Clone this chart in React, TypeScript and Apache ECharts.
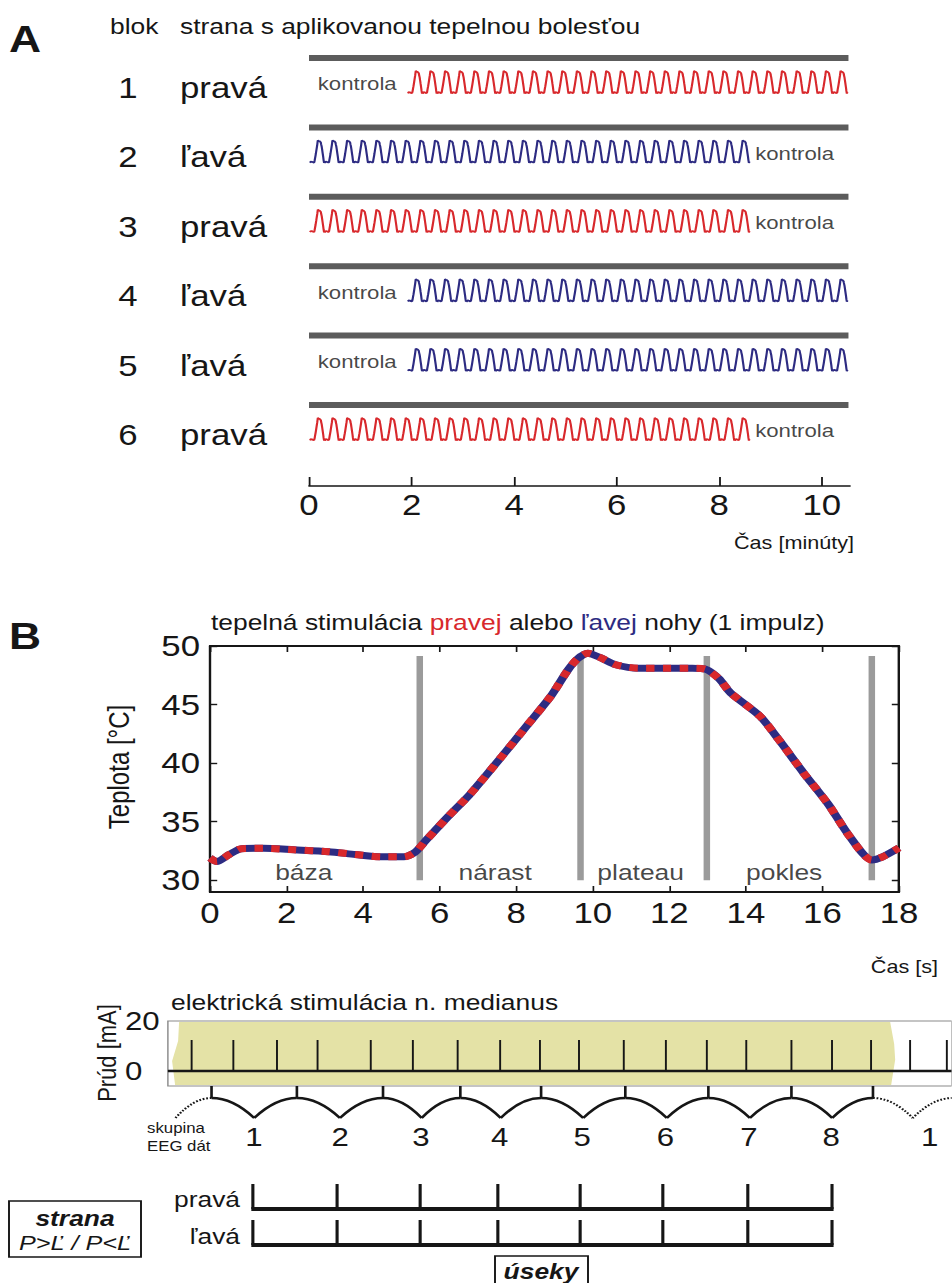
import React, { useEffect, useRef } from 'react';
import * as echarts from 'echarts';

// The original figure is horizontally stretched; the chart is drawn narrower and stretched by CSS.
const SX = 1.2;
const PAGE_W = 952;
const PAGE_H = 1283;
const CW = PAGE_W / SX;
const hx = (x: number) => x / SX;

const FONT = "'Liberation Sans', Arial, Helvetica, sans-serif";
const INK = '#161616';
const RED = '#d8282c';
const NAVY = '#2d2b82';
const BAR_GREY = '#5c5c5c';
const PHASE_GREY = '#9b9b9b';
const YELLOW = '#e4e2a6';

// ---------------- Panel A data ----------------
const blockNumbers = ['1', '2', '3', '4', '5', '6'];
const blockSides = ['pravá', 'ľavá', 'pravá', 'ľavá', 'ľavá', 'pravá'];
const stimStartMin = [1.93, 0.02, 0.02, 1.93, 1.93, 0.02];
const controlLabelMin = [0.17, 8.7, 8.7, 0.17, 0.17, 8.7];
const stimDurationMin = 8.57;
const stimCycles = 30;
const blockEndMin = 10.52;
const minutesMax = 10.55;
const minuteStep = 2;

// ---------------- Panel B data ----------------
const tempTime = [0, 0.18, 0.5, 0.82, 1.4, 2.2, 3.1, 3.8, 4.5, 5.07, 5.36, 5.64, 6.21, 6.78, 7.2, 7.63, 8.33, 8.9, 9.34, 9.6, 9.87, 10.2, 10.6, 11.2, 12.0, 12.6, 12.96, 13.3, 13.6, 14.37, 14.86, 15.5, 16.15, 16.72, 17.29, 17.57, 18.0];
const tempValue = [31.9, 31.6, 32.2, 32.7, 32.73, 32.6, 32.44, 32.2, 32.0, 32.0, 32.4, 33.4, 35.4, 37.3, 38.9, 40.6, 43.4, 45.7, 47.9, 48.9, 49.38, 49.0, 48.4, 48.1, 48.1, 48.1, 48.0, 47.2, 46.0, 44.0, 42.0, 39.2, 36.5, 33.7, 31.73, 32.0, 32.76];
const phaseBounds = [5.48, 9.68, 12.98, 17.29];
const phaseNames = ['báza', 'nárast', 'plateau', 'pokles'];
const phaseCentres = [2.45, 7.45, 11.25, 15.0];
const phaseLabelLevel = 30.65;
const phaseLineTop = 49.15;
const phaseLineBottom = 30;
const secondsMax = 18;
const secondStep = 2;
const tempAxisMin = 29;
const tempAxisMax = 50;
const tempTicks = [30, 35, 40, 45, 50];

// ---------------- Lower panel data ----------------
const lowerTimeMin = -1.1;
const lowerTimeMax = 19.38;
const currentMin = -6;
const currentMax = 20;
const currentLabels = [0, 20];
const stimSpan = [-0.99, 17.9];
const impulseTimes = [-0.48, 0.61, 1.75, 2.81, 4.2, 5.3, 6.47, 7.58, 8.62, 9.64, 10.81, 11.91, 12.98, 14.01, 15.19, 16.25, 17.27, 18.29, 19.25];
const impulseAmp = 12.4;
const groupBounds = [0.04, 2.27, 4.52, 6.54, 8.65, 10.85, 13.02, 15.19, 17.32];
const prevBound = -1.84;
const nextBound = 19.4;
const groupLabels = ['1', '2', '3', '4', '5', '6', '7', '8', '1'];
const groupLabelTimes = [1.15, 3.4, 5.51, 7.57, 9.72, 11.9, 14.08, 16.23, 18.8];
const segmentTicks = [1.12, 3.32, 5.49, 7.52, 9.67, 11.83, 14.05, 16.25];

// ---------------- Layout (reference pixels) ----------------
const rowPx = 69.4;
const row1Px = 82;
const axisAPx = 486;
const rowMin = 0.3;
const rowMax = 1 + (axisAPx - row1Px) / rowPx;
const barOffset = 24 / rowPx;
const waveAmp = 11.7 / rowPx;
const gridATop = row1Px - (1 - rowMin) * rowPx;

const gridBLeft = 210;
const gridBTop = 646;
const gridBWidth = 689;
const gridBHeight = 246;
const secPx = gridBWidth / secondsMax;
const gridCLeft = gridBLeft + lowerTimeMin * secPx;
const gridCWidth = (lowerTimeMax - lowerTimeMin) * secPx;
const gridCTop = 1021;
const gridCHeight = 65;
const combLines = [1209, 1245];
const combTick = 25;

const tMin = Math.min(...tempValue);
const tMax = Math.max(...tempValue);
const cycleMin = stimDurationMin / stimCycles;

function waveData(r: number) {
  const centre = r + 1;
  const pts: number[][] = [];
  for (let k = 0; k < stimCycles; k++) {
    tempTime.forEach((s, j) => {
      if (k > 0 && j === 0) return;
      const t = stimStartMin[r] + (k + s / secondsMax) * cycleMin;
      const v = centre + waveAmp - ((tempValue[j] - tMin) / (tMax - tMin)) * 2 * waveAmp;
      pts.push([t, v]);
    });
  }
  return pts;
}

function T(text: string, x: number, y: number, size: number, o: any = {}) {
  return {
    type: 'text',
    x: hx(x),
    y,
    rotation: o.rotation || 0,
    silent: true,
    style: {
      text,
      fontSize: size,
      fontFamily: FONT,
      fontWeight: o.weight || 'normal',
      fontStyle: o.italic ? 'italic' : 'normal',
      fill: o.color || INK,
      align: o.align || 'left',
      verticalAlign: 'middle',
    },
  };
}

function buildOption(): any {
  const series: any[] = [];

  // Panel A
  blockSides.forEach((side, r) => {
    const colour = side === 'pravá' ? RED : NAVY;
    series.push({
      type: 'line', xAxisIndex: 0, yAxisIndex: 0, silent: true, symbol: 'none',
      data: [[0, r + 1 - barOffset], [blockEndMin, r + 1 - barOffset]],
      lineStyle: { color: BAR_GREY, width: 6, cap: 'butt' },
    });
    series.push({
      type: 'line', xAxisIndex: 0, yAxisIndex: 0, silent: true, symbol: 'none',
      data: waveData(r),
      lineStyle: { color: colour, width: 1.8 },
    });
    series.push({
      type: 'scatter', xAxisIndex: 0, yAxisIndex: 0, silent: true, symbolSize: 0,
      data: [[controlLabelMin[r], r + 1]],
      label: { show: true, position: 'right', distance: 0, offset: [0, 2], formatter: 'kontrola', fontSize: 18.5, fontFamily: FONT, color: INK },
    });
  });

  // Panel B
  series.push({
    type: 'custom', xAxisIndex: 1, yAxisIndex: 1, silent: true, z: 1,
    data: phaseBounds.map((b) => [b, phaseLineBottom]),
    renderItem: (params: any, api: any) => {
      const p0 = api.coord([api.value(0), phaseLineBottom]);
      const p1 = api.coord([api.value(0), phaseLineTop]);
      return { type: 'line', shape: { x1: p0[0], y1: p0[1], x2: p1[0], y2: p1[1] }, style: { stroke: PHASE_GREY, lineWidth: hx(6.5) } };
    },
  });
  const tempData = tempTime.map((t, i) => [t, tempValue[i]]);
  series.push({
    type: 'line', xAxisIndex: 1, yAxisIndex: 1, silent: true, symbol: 'none', smooth: 0.25, z: 2,
    data: tempData, lineStyle: { color: NAVY, width: 7, cap: 'butt' },
  });
  series.push({
    type: 'line', xAxisIndex: 1, yAxisIndex: 1, silent: true, symbol: 'none', smooth: 0.25, z: 3,
    data: tempData, lineStyle: { color: RED, width: 7, type: [7, 7], cap: 'butt' },
  });
  series.push({
    type: 'scatter', xAxisIndex: 1, yAxisIndex: 1, silent: true, symbolSize: 0, z: 4,
    data: phaseCentres.map((c, k) => ({ value: [c, phaseLabelLevel], name: phaseNames[k] })),
    label: { show: true, position: 'inside', formatter: '{b}', fontSize: 22, fontFamily: FONT, color: INK },
  });

  // Lower panel: stimulation block (yellow)
  const leftEdge = [[7, 0], [6, 0.3], [0, 0.62], [3, 1]];
  const rightEdge = [[-5, 0], [-1, 0.35], [0, 0.6], [-4, 1]];
  series.push({
    type: 'custom', xAxisIndex: 3, yAxisIndex: 3, silent: true, z: 1,
    data: [[stimSpan[0], stimSpan[1]]],
    renderItem: (params: any, api: any) => {
      const x0 = api.coord([api.value(0), 0])[0];
      const x1 = api.coord([api.value(1), 0])[0];
      const yT = api.coord([0, currentMax])[1] + 1;
      const yB = api.coord([0, currentMin])[1] - 1;
      const h = yB - yT;
      const pts = [
        ...rightEdge.map(([dx, f]) => [x1 + hx(dx), yT + f * h]),
        ...leftEdge.slice().reverse().map(([dx, f]) => [x0 + hx(dx), yT + f * h]),
      ];
      return { type: 'polygon', shape: { points: pts }, style: { fill: YELLOW } };
    },
  });
  series.push({
    type: 'line', xAxisIndex: 3, yAxisIndex: 3, silent: true, symbol: 'none', z: 3,
    data: [[lowerTimeMin, 0], [lowerTimeMax, 0]], lineStyle: { color: INK, width: 2.6 },
  });
  series.push({
    type: 'custom', xAxisIndex: 3, yAxisIndex: 3, silent: true, z: 3,
    data: impulseTimes.map((t) => [t, impulseAmp]),
    renderItem: (params: any, api: any) => {
      const p0 = api.coord([api.value(0), 0]);
      const p1 = api.coord([api.value(0), api.value(1)]);
      return { type: 'line', shape: { x1: p0[0], y1: p0[1], x2: p1[0], y2: p1[1] }, style: { stroke: INK, lineWidth: 1.6 } };
    },
  });
  // group braces
  const allBounds = [prevBound, ...groupBounds, nextBound];
  series.push({
    type: 'custom', xAxisIndex: 3, yAxisIndex: 3, silent: true, z: 3, clip: false,
    data: allBounds.map((b) => [b, currentMin]),
    renderItem: (params: any, api: any) => {
      const i = params.dataIndex;
      const n = allBounds.length;
      const x = api.coord([api.value(0), 0])[0];
      const yF = api.coord([0, currentMin])[1];
      const ys = yF + 12;
      const yc = yF + 32;
      const children: any[] = [];
      if (i > 0 && i < n - 1) {
        children.push({ type: 'line', shape: { x1: x, y1: yF, x2: x, y2: ys }, style: { stroke: INK, lineWidth: 2.2 } });
      }
      if (i < n - 1) {
        const xn = api.coord([allBounds[i + 1], 0])[0];
        const xm = (x + xn) / 2;
        const dotted = i === 0 || i === n - 2;
        const st: any = { stroke: INK, lineWidth: dotted ? 2 : 2.4, fill: null };
        if (dotted) st.lineDash = [1.5, 1.5];
        if (i > 0) children.push({ type: 'bezierCurve', shape: { x1: x, y1: ys, x2: xm, y2: yc, cpx1: x + (xm - x) * 0.5, cpy1: ys }, style: st });
        children.push({ type: 'bezierCurve', shape: { x1: xn, y1: ys, x2: xm, y2: yc, cpx1: xn - (xn - xm) * 0.5, cpy1: ys }, style: st });
      }
      return { type: 'group', children };
    },
  });
  series.push({
    type: 'custom', xAxisIndex: 3, yAxisIndex: 3, silent: true, z: 3, clip: false,
    data: groupLabelTimes.map((t) => [t, currentMin]),
    renderItem: (params: any, api: any) => {
      const x = api.coord([api.value(0), 0])[0];
      const yF = api.coord([0, currentMin])[1];
      return { type: 'text', x, y: yF + 51, style: { text: groupLabels[params.dataIndex], fontSize: 26, fontFamily: FONT, fill: INK, align: 'center', verticalAlign: 'middle' } };
    },
  });
  series.push({
    type: 'custom', xAxisIndex: 3, yAxisIndex: 3, silent: true, z: 3, clip: false,
    data: segmentTicks.map((t) => [t, currentMin]),
    renderItem: (params: any, api: any) => {
      const i = params.dataIndex;
      const x = api.coord([api.value(0), 0])[0];
      const children: any[] = [];
      combLines.forEach((yl) => {
        children.push({ type: 'line', shape: { x1: x, y1: yl, x2: x, y2: yl - combTick }, style: { stroke: INK, lineWidth: 2.6 } });
        if (i < segmentTicks.length - 1) {
          const xn = api.coord([segmentTicks[i + 1], 0])[0];
          children.push({ type: 'line', shape: { x1: x - 1.3, y1: yl, x2: xn + 1.3, y2: yl }, style: { stroke: INK, lineWidth: 4 } });
        }
      });
      return { type: 'group', children };
    },
  });

  const axisText = { color: INK, fontFamily: FONT };

  const graphic: any[] = [
    T('A', 9, 39, 37, { weight: 'bold' }),
    T('B', 9, 636, 37, { weight: 'bold' }),
    T('blok', 110, 26, 22),
    T('strana s aplikovanou tepelnou bolesťou', 180, 26, 22),
    ...blockNumbers.map((nTxt, r) => T(nTxt, 128, row1Px + r * rowPx + 6, 29, { align: 'center' })),
    ...blockSides.map((s, r) => T(s, 180, row1Px + r * rowPx + 6, 29)),
    T('Čas [minúty]', 854, 543, 18, { align: 'right' }),
    {
      type: 'text', x: hx(211), y: 622, silent: true,
      style: {
        text: '{n|tepelná stimulácia }{r|pravej}{n| alebo }{b|ľavej}{n| nohy (1 impulz)}',
        fontSize: 22, fontFamily: FONT, fill: INK, align: 'left', verticalAlign: 'middle',
        rich: {
          n: { fill: INK, fontSize: 22, fontFamily: FONT },
          r: { fill: RED, fontSize: 22, fontFamily: FONT },
          b: { fill: NAVY, fontSize: 22, fontFamily: FONT },
        },
      },
    },
    T('Teplota [°C]', 119, 767, 24, { align: 'center', rotation: Math.PI / 2 }),
    T('Čas [s]', 938, 967, 18, { align: 'right' }),
    T('elektrická stimulácia n. medianus', 171, 1002, 22),
    T('Prúd [mA]', 107, 1053, 22, { align: 'center', rotation: Math.PI / 2 }),
    T('skupina', 147, 1128, 14),
    T('EEG dát', 147, 1146, 14),
    T('pravá', 240, 1199, 22, { align: 'right' }),
    T('ľavá', 240, 1236, 22, { align: 'right' }),
    { type: 'rect', silent: true, shape: { x: hx(9), y: 1201, width: hx(132), height: 56 }, style: { fill: 'none', stroke: INK, lineWidth: 1.6 } },
    T('strana', 75, 1218, 22, { align: 'center', weight: 'bold', italic: true }),
    T('P>Ľ / P<Ľ', 75, 1243, 21, { align: 'center', italic: true }),
    { type: 'rect', silent: true, shape: { x: hx(495), y: 1256, width: hx(93), height: 40 }, style: { fill: 'none', stroke: INK, lineWidth: 1.6 } },
    T('úseky', 541, 1271, 22, { align: 'center', weight: 'bold', italic: true }),
  ];

  return {
    animation: false,
    backgroundColor: '#ffffff',
    grid: [
      { left: hx(309), top: gridATop, width: hx(541), height: axisAPx - gridATop },
      { left: hx(gridBLeft), top: gridBTop, width: hx(gridBWidth), height: gridBHeight },
      { left: hx(gridCLeft), top: gridCTop, width: hx(gridCWidth), height: gridCHeight, show: true, borderColor: '#8a8a8a', borderWidth: 1.2, backgroundColor: 'transparent' },
    ],
    xAxis: [
      {
        gridIndex: 0, type: 'value', min: 0, max: minutesMax, interval: minuteStep,
        axisLine: { onZero: false, lineStyle: { color: INK, width: 1.5 } },
        axisTick: { inside: true, length: 9, lineStyle: { color: INK, width: 1.5 } },
        axisLabel: { ...axisText, fontSize: 29, margin: 5 },
        splitLine: { show: false },
      },
      {
        gridIndex: 1, type: 'value', min: 0, max: secondsMax, interval: secondStep, position: 'bottom',
        axisLine: { onZero: false, lineStyle: { color: INK, width: 2 } },
        axisTick: { inside: true, length: 6, lineStyle: { color: INK, width: 1.4 } },
        axisLabel: { ...axisText, fontSize: 29, margin: 7 },
        splitLine: { show: false },
      },
      {
        gridIndex: 1, type: 'value', min: 0, max: secondsMax, interval: secondStep, position: 'top',
        axisLine: { onZero: false, lineStyle: { color: INK, width: 2 } },
        axisTick: { inside: true, length: 6, lineStyle: { color: INK, width: 1.4 } },
        axisLabel: { show: false },
        splitLine: { show: false },
      },
      {
        gridIndex: 2, type: 'value', min: lowerTimeMin, max: lowerTimeMax, show: false,
        splitLine: { show: false },
      },
    ],
    yAxis: [
      { gridIndex: 0, type: 'value', min: rowMin, max: rowMax, inverse: true, show: false, splitLine: { show: false } },
      {
        gridIndex: 1, type: 'value', min: tempAxisMin, max: tempAxisMax, position: 'left',
        axisLine: { show: true, onZero: false, lineStyle: { color: INK, width: 2 } },
        axisTick: { show: true, inside: true, length: 6, customValues: tempTicks, lineStyle: { color: INK, width: 1.4 } },
        axisLabel: { ...axisText, fontSize: 29, margin: hx(10), customValues: tempTicks },
        splitLine: { show: false },
      },
      {
        gridIndex: 1, type: 'value', min: tempAxisMin, max: tempAxisMax, position: 'right',
        axisLine: { show: true, onZero: false, lineStyle: { color: INK, width: 2 } },
        axisTick: { show: true, inside: true, length: 6, customValues: tempTicks, lineStyle: { color: INK, width: 1.4 } },
        axisLabel: { show: false },
        splitLine: { show: false },
      },
      {
        gridIndex: 2, type: 'value', min: currentMin, max: currentMax, position: 'left',
        axisLine: { show: false },
        axisTick: { show: true, inside: true, length: hx(12), customValues: [0], lineStyle: { color: INK, width: 4 } },
        axisLabel: { ...axisText, fontSize: 26, align: 'left', margin: hx(43), customValues: currentLabels },
        splitLine: { show: false },
      },
    ],
    series,
    graphic,
  };
}

export default function App() {
  const ref = useRef<HTMLDivElement>(null);
  useEffect(() => {
    if (!ref.current) return;
    const chart = echarts.init(ref.current, undefined, { renderer: 'svg', width: CW, height: PAGE_H });
    chart.setOption(buildOption());
    return () => chart.dispose();
  }, []);
  return (
    <div
      ref={ref}
      style={{
        position: 'absolute', left: 0, top: 0, width: CW, height: PAGE_H,
        transform: `scaleX(${SX})`, transformOrigin: '0 0', background: '#ffffff',
      }}
    />
  );
}
